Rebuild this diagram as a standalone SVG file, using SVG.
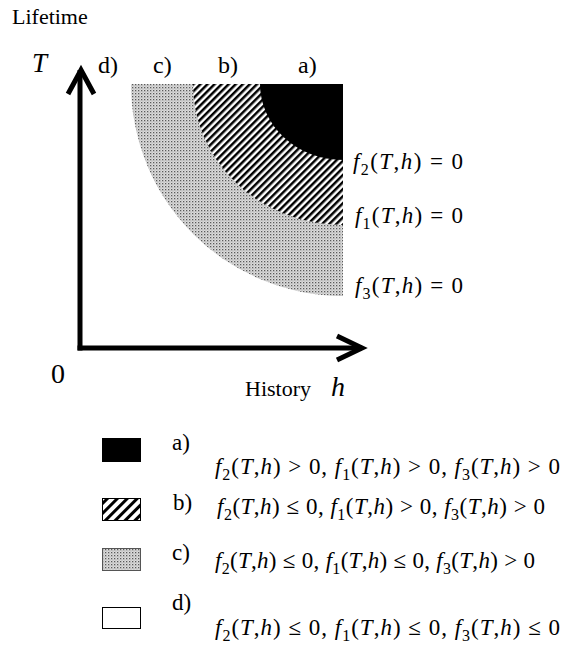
<svg xmlns="http://www.w3.org/2000/svg" width="564" height="655" viewBox="0 0 564 655">
<style>
text{font-family:"Liberation Serif","Times New Roman",serif;fill:#000}
.lbl{font-size:24px}
.leg{font-size:23px}
.m{font-size:23px}
.i{font-style:italic}
.sub{font-size:16px}
.ax{fill:none;stroke:#000;stroke-width:5}
</style>
<defs>
<pattern id="hatch" width="5" height="5" patternUnits="userSpaceOnUse" patternTransform="rotate(45)">
<rect width="5" height="5" fill="#fff"/>
<rect x="0" y="0" width="2.5" height="5" fill="#000"/>
</pattern>
<pattern id="hatchL" width="7" height="7" patternUnits="userSpaceOnUse" patternTransform="rotate(45)">
<rect width="7" height="7" fill="#fff"/>
<rect x="0" y="0" width="3" height="7" fill="#000"/>
</pattern>
<pattern id="dots" width="3" height="3" patternUnits="userSpaceOnUse">
<rect width="3" height="3" fill="#dcdcdc"/>
<rect x="0" y="0" width="1.3" height="1.3" fill="#5a5a5a"/>
<rect x="1.5" y="1.5" width="1" height="1" fill="#999"/>
</pattern>
</defs>
<rect width="564" height="655" fill="#fff"/>
<text x="12" y="24" style="font-size:22px">Lifetime</text>
<g id="regions">
<path id="region-c" d="M131,84 A212,212 0 0 0 343,296 L343,84 Z" fill="url(#dots)"/>
<path id="region-b" d="M193,84 A150,141 0 0 0 343,225 L343,84 Z" fill="url(#hatch)"/>
<path id="region-a" d="M260,84 A83,76 0 0 0 343,160 L343,84 Z" fill="#000"/>
</g>
<g id="region-labels" class="lbl">
<text x="98" y="73">d)</text>
<text x="153" y="73">c)</text>
<text x="218" y="73">b)</text>
<text x="298" y="73">a)</text>
</g>
<g id="curve-labels">
<text class="m" x="353" y="169" textLength="110" lengthAdjust="spacing"><tspan class="i">f</tspan><tspan class="sub" dy="6">2</tspan><tspan dy="-6">(</tspan><tspan class="i">T</tspan>,<tspan class="i">h</tspan>) = 0</text>
<text class="m" x="355" y="223" textLength="108" lengthAdjust="spacing"><tspan class="i">f</tspan><tspan class="sub" dy="6">1</tspan><tspan dy="-6">(</tspan><tspan class="i">T</tspan>,<tspan class="i">h</tspan>) = 0</text>
<text class="m" x="355" y="293" textLength="108" lengthAdjust="spacing"><tspan class="i">f</tspan><tspan class="sub" dy="6">3</tspan><tspan dy="-6">(</tspan><tspan class="i">T</tspan>,<tspan class="i">h</tspan>) = 0</text>
</g>
<g id="connectors">
<path class="ax" d="M80,350.5 V70"/>
<path class="ax" d="M77.5,348 H362"/>
<polyline class="ax" points="68,94 81,70 94,94"/>
<polyline class="ax" points="337,336 362,348 337,360"/>
</g>
<g id="axis-labels">
<text x="32" y="72" class="i" style="font-size:27px">T</text>
<text x="51" y="383" style="font-size:28px">0</text>
<text x="245" y="396" style="font-size:22px">History</text>
<text x="331" y="396" class="i" style="font-size:28px">h</text>
</g>
<g id="legend-a">
<rect x="102" y="438" width="39" height="24" fill="#000"/>
<text class="leg" x="172" y="450">a)</text>
<text class="m" x="215" y="474" textLength="345" lengthAdjust="spacing"><tspan class="i">f</tspan><tspan class="sub" dy="6">2</tspan><tspan dy="-6">(</tspan><tspan class="i">T</tspan>,<tspan class="i">h</tspan>) &gt; 0, <tspan class="i">f</tspan><tspan class="sub" dy="6">1</tspan><tspan dy="-6">(</tspan><tspan class="i">T</tspan>,<tspan class="i">h</tspan>) &gt; 0, <tspan class="i">f</tspan><tspan class="sub" dy="6">3</tspan><tspan dy="-6">(</tspan><tspan class="i">T</tspan>,<tspan class="i">h</tspan>) &gt; 0</text>
</g>
<g id="legend-b">
<rect x="102.5" y="498.5" width="38" height="22" fill="url(#hatchL)" stroke="#000" stroke-width="1"/>
<text class="leg" x="173" y="510">b)</text>
<text class="m" x="217" y="514" textLength="328" lengthAdjust="spacing"><tspan class="i">f</tspan><tspan class="sub" dy="6">2</tspan><tspan dy="-6">(</tspan><tspan class="i">T</tspan>,<tspan class="i">h</tspan>) ≤ 0, <tspan class="i">f</tspan><tspan class="sub" dy="6">1</tspan><tspan dy="-6">(</tspan><tspan class="i">T</tspan>,<tspan class="i">h</tspan>) &gt; 0, <tspan class="i">f</tspan><tspan class="sub" dy="6">3</tspan><tspan dy="-6">(</tspan><tspan class="i">T</tspan>,<tspan class="i">h</tspan>) &gt; 0</text>
</g>
<g id="legend-c">
<rect x="102.5" y="548.5" width="38" height="22" fill="url(#dots)" stroke="#555" stroke-width="1"/>
<text class="leg" x="172" y="560">c)</text>
<text class="m" x="215" y="568" textLength="320" lengthAdjust="spacing"><tspan class="i">f</tspan><tspan class="sub" dy="6">2</tspan><tspan dy="-6">(</tspan><tspan class="i">T</tspan>,<tspan class="i">h</tspan>) ≤ 0, <tspan class="i">f</tspan><tspan class="sub" dy="6">1</tspan><tspan dy="-6">(</tspan><tspan class="i">T</tspan>,<tspan class="i">h</tspan>) ≤ 0, <tspan class="i">f</tspan><tspan class="sub" dy="6">3</tspan><tspan dy="-6">(</tspan><tspan class="i">T</tspan>,<tspan class="i">h</tspan>) &gt; 0</text>
</g>
<g id="legend-d">
<rect x="102.5" y="607.5" width="38" height="21" fill="#fff" stroke="#000" stroke-width="1"/>
<text class="leg" x="172" y="610">d)</text>
<text class="m" x="215" y="635" textLength="345" lengthAdjust="spacing"><tspan class="i">f</tspan><tspan class="sub" dy="6">2</tspan><tspan dy="-6">(</tspan><tspan class="i">T</tspan>,<tspan class="i">h</tspan>) ≤ 0, <tspan class="i">f</tspan><tspan class="sub" dy="6">1</tspan><tspan dy="-6">(</tspan><tspan class="i">T</tspan>,<tspan class="i">h</tspan>) ≤ 0, <tspan class="i">f</tspan><tspan class="sub" dy="6">3</tspan><tspan dy="-6">(</tspan><tspan class="i">T</tspan>,<tspan class="i">h</tspan>) ≤ 0</text>
</g>
</svg>
